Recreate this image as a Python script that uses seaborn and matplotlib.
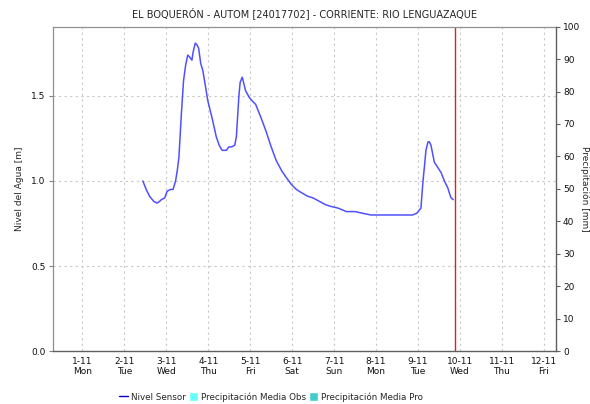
import matplotlib
matplotlib.use("Agg")
import matplotlib.pyplot as plt
import seaborn as sns
import pandas as pd
from matplotlib.lines import Line2D
from matplotlib.patches import Patch

# day of November 2021 (fractional) and water level in metres
dias = [2.44, 2.52, 2.60, 2.70, 2.78, 2.84, 2.88, 2.96, 3.02, 3.10, 3.16, 3.22,
        3.26, 3.30, 3.36, 3.41, 3.46, 3.51, 3.55, 3.58, 3.61, 3.64, 3.69, 3.73,
        3.77, 3.82, 3.87, 3.91, 3.99, 4.10, 4.19, 4.26, 4.33, 4.43, 4.49, 4.55,
        4.63, 4.67, 4.73, 4.76, 4.81, 4.85, 4.89, 4.98, 5.05, 5.13, 5.26, 5.38,
        5.50, 5.62, 5.75, 5.86, 5.98, 6.10, 6.23, 6.37, 6.50, 6.65, 6.80, 6.93,
        7.10, 7.29, 7.50, 7.68, 7.88, 8.08, 8.30, 8.50, 8.70, 8.87, 8.97, 9.07,
        9.12, 9.16, 9.19, 9.24, 9.27, 9.31, 9.35, 9.39, 9.47, 9.55, 9.63, 9.71,
        9.76, 9.79, 9.84]
nivel = [1.00, 0.95, 0.91, 0.88, 0.87, 0.88, 0.89, 0.90, 0.94, 0.95, 0.95, 1.00,
         1.06, 1.14, 1.40, 1.59, 1.68, 1.74, 1.73, 1.72, 1.71, 1.76, 1.81, 1.80,
         1.78, 1.69, 1.65, 1.59, 1.47, 1.36, 1.26, 1.21, 1.18, 1.18, 1.20, 1.20,
         1.21, 1.26, 1.50, 1.58, 1.61, 1.57, 1.53, 1.49, 1.47, 1.45, 1.37, 1.29,
         1.20, 1.12, 1.06, 1.02, 0.98, 0.95, 0.93, 0.91, 0.90, 0.88, 0.86, 0.85,
         0.84, 0.82, 0.82, 0.81, 0.80, 0.80, 0.80, 0.80, 0.80, 0.80, 0.81, 0.84,
         1.00, 1.10, 1.18, 1.23, 1.23, 1.21, 1.16, 1.11, 1.08, 1.05, 1.00, 0.96,
         0.92, 0.90, 0.89]

dias_ticks = [1, 2, 3, 4, 5, 6, 7, 8, 9, 10, 11, 12]
etiquetas = ["1-11\nMon", "2-11\nTue", "3-11\nWed", "4-11\nThu", "5-11\nFri",
             "6-11\nSat", "7-11\nSun", "8-11\nMon", "9-11\nTue", "10-11\nWed",
             "11-11\nThu", "12-11\nFri"]
ahora = 9.88

df = pd.DataFrame({"dia": dias, "nivel": nivel})

sns.set_style("white")
plt.rcParams["font.family"] = ["DejaVu Sans"]

fig = plt.figure(figsize=(5.9, 4.04), dpi=100)
ax = fig.add_axes([0.0893, 0.131, 0.853, 0.803])

sns.lineplot(data=df, x="dia", y="nivel", ax=ax, color="#5050ff", linewidth=1.1)
ax.axvline(ahora, color="#e02020", linewidth=1)

ax.set_xlim(0.29, 12.29)
ax.set_ylim(0, 1.907)
ax.set_xticks(dias_ticks)
ax.set_xticklabels(etiquetas, fontsize=6.5, color="#111111")
ax.set_yticks([0.0, 0.5, 1.0, 1.5])
ax.set_yticklabels(["0.0", "0.5", "1.0", "1.5"], fontsize=6.5, color="#111111")
ax.tick_params(axis="x", length=0, pad=4)
ax.tick_params(axis="y", length=3, color="#808080", pad=2)
ax.grid(True, color="#c8c8c8", linestyle=(0, (2, 3)), linewidth=0.8)
ax.set_xlabel("")
ax.set_ylabel("Nivel del Agua [m]", fontsize=6.5, labelpad=5)

for s in ["left", "top", "right"]:
    ax.spines[s].set_color("#909090")
    ax.spines[s].set_linewidth(0.9)
ax.spines["bottom"].set_color("#606060")
ax.spines["bottom"].set_linestyle((0, (1, 1)))
ax.spines["bottom"].set_linewidth(1.0)

ax2 = ax.twinx()
ax2.set_ylim(0, 100)
ax2.set_yticks(range(0, 101, 10))
ax2.set_yticklabels([str(v) for v in range(0, 101, 10)], fontsize=6.5, color="#111111")
ax2.tick_params(axis="y", length=3, color="#606060", pad=2)
ax2.set_ylabel("Precipitación [mm]", fontsize=6.5, rotation=-90, labelpad=7)
for s in ax2.spines.values():
    s.set_visible(False)
ax2.spines["right"].set_visible(True)
ax2.spines["right"].set_color("#606060")
ax2.spines["right"].set_linewidth(0.9)

ax.set_title("EL BOQUERÓN - AUTOM [24017702] - CORRIENTE: RIO LENGUAZAQUE",
             fontsize=7.0, pad=7)

handles = [Line2D([], [], color="#0000cc", linewidth=1),
           Patch(facecolor="#66ffff"), Patch(facecolor="#44cccc")]
labels = ["Nivel Sensor", "Precipitación Media Obs", "Precipitación Media Pro"]
fig.legend(handles, labels, loc="center", bbox_to_anchor=(271 / 590, 1 - 397 / 404),
           ncol=3, frameon=False, fontsize=6.3, handlelength=1.0,
           handletextpad=0.3, columnspacing=0.4, handleheight=1.2)

fig.savefig("out.png", dpi=100)
